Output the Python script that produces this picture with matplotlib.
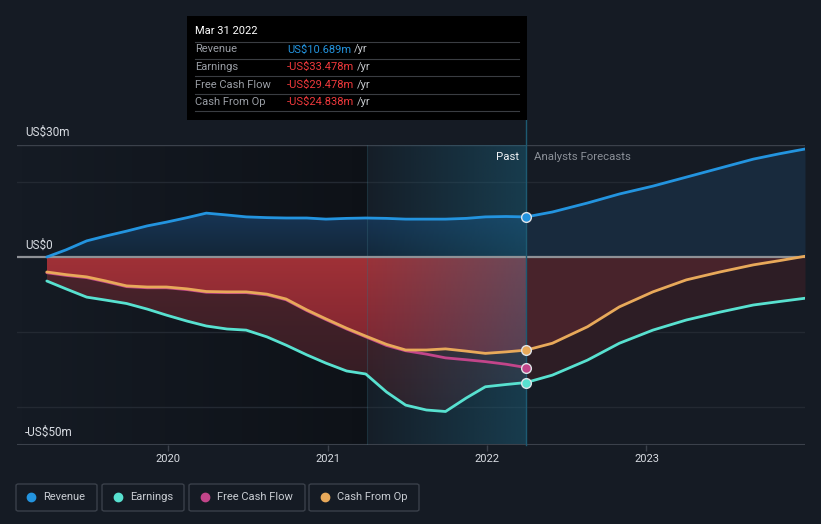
import numpy as np
import matplotlib.pyplot as plt
from matplotlib.patches import Rectangle, FancyBboxPatch, PathPatch
from matplotlib.colors import to_rgb

plt.rcParams['font.family'] = ['Roboto', 'DejaVu Sans']

# values in US$m, time in fractional years
now = 2022.245

t_past = [2019.24, 2019.36, 2019.49, 2019.61, 2019.74, 2019.87, 2019.99, 2020.12,
          2020.24, 2020.37, 2020.49, 2020.62, 2020.74, 2020.87, 2020.99, 2021.12,
          2021.24, 2021.37, 2021.49, 2021.62, 2021.74, 2021.87, 2021.99, 2022.12, 2022.245]
rev_past = [0.0, 1.9, 4.3, 5.6, 6.9, 8.3, 9.3, 10.5, 11.7, 11.2, 10.7, 10.5, 10.4,
            10.4, 10.1, 10.3, 10.4, 10.3, 10.1, 10.1, 10.1, 10.3, 10.7, 10.8, 10.689]
earn_past = [-6.4, -8.5, -10.7, -11.5, -12.4, -13.9, -15.5, -17.1, -18.4, -19.2, -19.5,
             -21.3, -23.5, -26.1, -28.3, -30.4, -31.2, -36.0, -39.5, -40.8, -41.2,
             -37.6, -34.6, -34.0, -33.478]
cfo_past = [-4.0, -4.7, -5.3, -6.4, -7.7, -8.0, -8.0, -8.5, -9.2, -9.3, -9.3, -9.9,
            -11.2, -14.1, -16.5, -19.0, -21.1, -23.3, -24.8, -24.8, -24.5, -25.1,
            -25.7, -25.3, -24.838]
fcf_past = [-4.2, -4.9, -5.5, -6.6, -7.9, -8.2, -8.2, -8.7, -9.4, -9.5, -9.5, -10.1,
            -11.4, -14.3, -16.7, -19.2, -21.3, -23.6, -25.0, -25.9, -26.9, -27.4,
            -27.9, -28.6, -29.478]

t_fc = [2022.245, 2022.41, 2022.63, 2022.83, 2023.04, 2023.25, 2023.46, 2023.67, 2023.83, 2023.994]
rev_fc = [10.689, 12.0, 14.4, 16.8, 18.9, 21.3, 23.7, 26.1, 27.5, 28.8]
earn_fc = [-33.478, -31.5, -27.5, -23.0, -19.5, -16.8, -14.7, -12.8, -11.9, -11.0]
cfo_fc = [-24.838, -23.0, -18.6, -13.3, -9.3, -6.1, -4.0, -2.1, -1.0, 0.2]

year_ticks = [2020, 2021, 2022, 2023]
series_names = ['Revenue', 'Earnings', 'Free Cash Flow', 'Cash From Op']
series_colors = ['#2394df', '#58e1d0', '#c2458a', '#e8a95a']
tip_values = ['US$10.689m', '-US$33.478m', '-US$29.478m', '-US$24.838m']

bg = '#151b24'
W, H = 821, 524


def fx(x):
    return x / W


def fy(y):
    return 1 - y / H


fig = plt.figure(figsize=(W / 100, H / 100), dpi=100, facecolor=bg)
ax = fig.add_axes([fx(17), fy(444.5), 788 / W, 300 / H])
ax.set_facecolor(bg)
x0, x1 = 2019.053, 2023.994
ax.set_xlim(x0, x1)
ax.set_ylim(-50, 30)
for s in ax.spines.values():
    s.set_visible(False)
ax.set_yticks([])
ax.set_xticks(year_ticks)
ax.set_xticklabels([str(y) for y in year_ticks])
ax.tick_params(axis='x', length=4, width=1, color='#3a404a', labelcolor='#d8dce2',
               labelsize=8, pad=3)


def vgrad(c_top, c_bot, n=64):
    a = np.zeros((n, 1, 4))
    ct, cb = np.array(to_rgb(c_top)), np.array(to_rgb(c_bot))
    for i in range(n):
        f = i / (n - 1)
        a[i, 0, :3] = ct * (1 - f) + cb * f
        a[i, 0, 3] = 1.0
    return a


def grad_fill(x, y1, y2, c_top, c_bot, ext, z):
    poly = ax.fill_between(x, y1, y2, color='none', lw=0)
    patch = PathPatch(poly.get_paths()[0], transform=ax.transData,
                      facecolor='none', edgecolor='none')
    ax.add_patch(patch)
    im = ax.imshow(vgrad(c_top, c_bot), extent=ext, aspect='auto', zorder=z,
                   interpolation='bilinear')
    im.set_clip_path(patch)


# darker background over past
hg = np.zeros((1, 64, 4))
hg[0, :, 3] = np.linspace(0.0, 0.35, 64)
ax.imshow(hg, extent=[x0, 2021.25, -50, 30], aspect='auto', zorder=0)

# grid
for g in [20, -20, -40]:
    ax.axhline(g, color='#232932', lw=1, zorder=0.5)
ax.axhline(30, color='#3b414b', lw=1, zorder=0.5)
ax.axhline(-50, color='#3b414b', lw=1.5, zorder=0.5)

# fills past
grad_fill(t_past, 0, rev_past, '#173555', '#132638', [t_past[0], now, 0, 12], 1)
grad_fill(t_past, 0, cfo_past, '#a03137', '#7e2530', [t_past[0], now, -26, 0], 1)
grad_fill(t_past, cfo_past, earn_past, '#4b232b', '#2e1b22', [t_past[0], now, -42, -4], 1)

# fills forecast
ax.fill_between(t_fc, 0, rev_fc, color='#182a3d', lw=0, zorder=1)
ax.fill_between(t_fc, 0, cfo_fc, color='#48232b', lw=0, zorder=1)
ax.fill_between(t_fc, cfo_fc, earn_fc, color='#2d1d25', lw=0, zorder=1)

# highlighted band
band = np.zeros((1, 64, 4))
band[0, :, :3] = to_rgb('#1c6d8c')
band[0, :, 3] = np.linspace(0.04, 0.40, 64)
ax.imshow(band, extent=[2021.25, now, -50, 30], aspect='auto', zorder=2,
          interpolation='bilinear')
ax.plot([2021.25, 2021.25], [-50, 30], color='#3a6a7a', lw=0.8, alpha=0.35, zorder=2)

ax.set_xlim(x0, x1)
ax.set_ylim(-50, 30)

# zero line
ax.plot([x0, x1], [0, 0], color='#8e9196', lw=1.6, zorder=3)

# lines
lw = 2.0
ax.plot(t_past, rev_past, color=series_colors[0], lw=lw, zorder=5, solid_capstyle='round')
ax.plot(t_fc, rev_fc, color=series_colors[0], lw=lw, zorder=5, solid_capstyle='round')
ax.plot(t_past, earn_past, color=series_colors[1], lw=lw, zorder=5, solid_capstyle='round')
ax.plot(t_fc, earn_fc, color=series_colors[1], lw=lw, zorder=5, solid_capstyle='round')
ax.plot(t_past, fcf_past, color=series_colors[2], lw=lw, zorder=4, solid_capstyle='round')
ax.plot(t_past, cfo_past, color=series_colors[3], lw=lw, zorder=5, solid_capstyle='round')
ax.plot(t_fc, cfo_fc, color=series_colors[3], lw=lw, zorder=5, solid_capstyle='round')

# now line
ax.plot([now, now], [-50, 36.5], color='#1d5a72', lw=1, zorder=3, clip_on=False)

# markers
for v, c in zip([rev_past[-1], earn_past[-1], fcf_past[-1], cfo_past[-1]], series_colors):
    ax.plot([now], [v], 'o', ms=7, mfc=c, mec='#dfe3e8', mew=1, zorder=6)

# labels
ax.text(now - 0.045, 26.8, 'Past', color='#f0f2f5', fontsize=8.2, ha='right', va='center', zorder=7)
ax.text(now + 0.05, 26.8, 'Analysts Forecasts', color='#8b9098', fontsize=8.2, ha='left',
        va='center', zorder=7)
fig.text(fx(25), fy(132), 'US$30m', color='#d8dce2', fontsize=8.5, va='center')
fig.text(fx(25), fy(245), 'US$0', color='#d8dce2', fontsize=8.5, va='center')
fig.text(fx(25), fy(432), '-US$50m', color='#d8dce2', fontsize=8.5, va='center')

# tooltip
fig.add_artist(Rectangle((fx(187), fy(120)), 340 / W, 104 / H, transform=fig.transFigure,
                         facecolor='#000000', edgecolor='none', zorder=10))
fig.text(fx(195), fy(31), 'Mar 31 2022', color='#ffffff', fontsize=8, va='center', zorder=11)
for yl in [41.5, 58.5, 76, 93.5, 111]:
    fig.add_artist(plt.Line2D([fx(195), fx(519)], [fy(yl), fy(yl)], transform=fig.transFigure,
                              color='#3a3d42', lw=0.8, zorder=11))
row_y = [49.5, 67, 84.5, 102]
for i, (name, val) in enumerate(zip(series_names, tip_values)):
    fig.text(fx(195), fy(row_y[i]), name, color='#9a9ea5', fontsize=8, va='center', zorder=11)
    vc = '#2394df' if i == 0 else '#f0393c'
    t = fig.text(fx(287), fy(row_y[i]), val, color=vc, fontsize=8, va='center', zorder=11)
    fig.canvas.draw()
    bb = t.get_window_extent()
    fig.text((bb.x1 + 3) / W, fy(row_y[i]), '/yr', color='#c5c8cc', fontsize=8,
             va='center', zorder=11)

# legend
boxes = [(16, 97), (102, 184), (189, 305), (309, 419)]
dots = [31, 118, 205, 325]
for (bx0, bx1), dx, name, c in zip(boxes, dots, series_names, series_colors):
    fig.add_artist(FancyBboxPatch((fx(bx0), fy(511)), (bx1 - bx0) / W, 27 / H,
                                  boxstyle='round,pad=0,rounding_size=0.003',
                                  transform=fig.transFigure, facecolor='none',
                                  edgecolor='#3a404a', lw=1))
    fig.add_artist(plt.Line2D([fx(dx)], [fy(497)], marker='o', ms=6, color=c, mec=c,
                              transform=fig.transFigure))
    fig.text(fx(dx + 12), fy(497.5), name, color='#c9cdd3', fontsize=8, va='center')

fig.savefig('out.png', dpi=100, facecolor=bg)
